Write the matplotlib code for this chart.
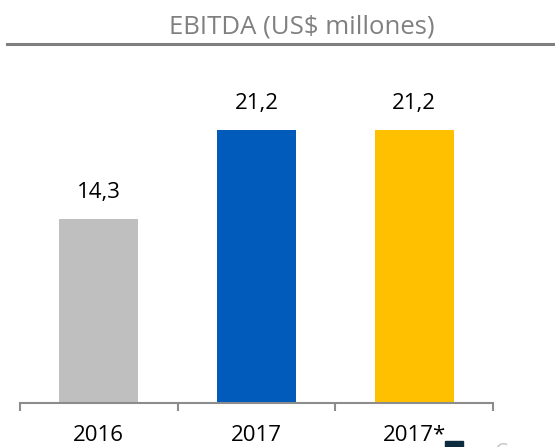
import matplotlib.pyplot as plt
from matplotlib.lines import Line2D
from matplotlib.patches import Rectangle

years = ['2016', '2017', '2017*']
ebitda = [14.3, 21.2, 21.2]
labels = ['14,3', '21,2', '21,2']
colors = ['#bfbfbf', '#005bbb', '#ffc000']

W, H = 555, 447
fig = plt.figure(figsize=(W / 100, H / 100), dpi=100)
plt.rcParams['font.family'] = ['Open Sans', 'DejaVu Sans']

# axes: left tick at 20px, right at 493px, baseline at 403px, top at 60px
ax = fig.add_axes([20 / W, (H - 403) / H, (493 - 20) / W, (403 - 60) / H])
x = range(len(years))
ax.bar(x, ebitda, width=0.5, color=colors)
ax.set_xlim(-0.5, 2.5)
ax.set_ylim(0, (403 - 60) / 12.9)

for i, v in enumerate(ebitda):
    ax.annotate(labels[i], (i, v), xytext=(0, 11), textcoords='offset points',
                ha='center', va='bottom', fontsize=16, color='black')

for s in ['top', 'right', 'left']:
    ax.spines[s].set_visible(False)
ax.spines['bottom'].set_color('#8c8c8c')
ax.spines['bottom'].set_linewidth(1.5)
ax.set_yticks([])
ax.set_xticks(list(x))
ax.set_xticklabels(years, fontsize=16, color='black')
ax.tick_params(axis='x', which='major', length=0, pad=16)
ax.set_xticks([-0.5, 0.5, 1.5, 2.5], minor=True)
ax.tick_params(axis='x', which='minor', length=6, width=1.5, color='#8c8c8c', direction='out')

# title with rule underneath
fig.text(302 / W, 1 - 33 / H, 'EBITDA (US$ millones)', ha='center', va='baseline',
         fontsize=18.5, color='#808080')
fig.add_artist(Line2D([7 / W, 1.0], [1 - 44 / H, 1 - 44 / H], color='#7f7f7f', lw=2.2,
                      transform=fig.transFigure))

# cut-off legend fragment at bottom right
fig.add_artist(Rectangle((445 / W, 0), 18 / W, 6 / H, color='#0d2d3f',
                         transform=fig.transFigure))
fig.text(495 / W, 1 - 443 / H, 'C', ha='left', va='top', fontsize=15, color='#c8c8c8')

fig.savefig('out.png', dpi=100)
